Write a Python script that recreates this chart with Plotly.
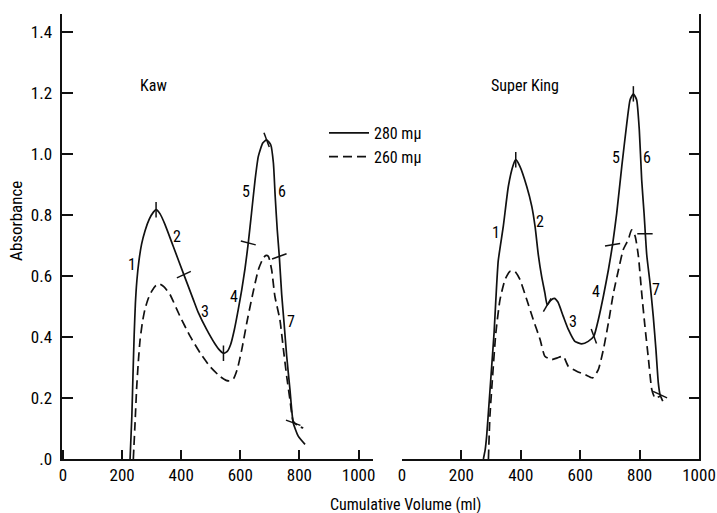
import plotly.graph_objects as go

# Kaw column: absorbance vs cumulative volume (ml)
kaw_vol_280 = [227, 233, 237, 241, 245, 250, 257, 266, 278, 292, 306, 315, 328, 345, 373, 409,
               441, 458, 486, 514, 530, 543, 555, 567, 580, 593, 605, 616, 627, 638, 650, 661,
               676, 689, 703, 712, 718, 725, 732, 740, 748, 757, 768, 779, 796, 819]
kaw_abs_280 = [0.0, 0.14, 0.28, 0.41, 0.51, 0.585, 0.65, 0.705, 0.75, 0.787, 0.81, 0.818, 0.805,
               0.77, 0.698, 0.605, 0.523, 0.48, 0.425, 0.378, 0.357, 0.347, 0.352, 0.375, 0.425,
               0.49, 0.556, 0.625, 0.709, 0.807, 0.916, 0.993, 1.037, 1.047, 1.031, 0.971,
               0.862, 0.752, 0.665, 0.54, 0.447, 0.337, 0.228, 0.119, 0.075, 0.048]
kaw_vol_260 = [238, 244, 249, 255, 261, 269, 277, 288, 300, 313, 326, 342, 362, 396, 430, 464,
               497, 531, 552, 565, 578, 590, 605, 622, 638, 661, 678, 687, 695, 706, 717, 734,
               746, 757, 768, 779, 796, 813]
kaw_abs_260 = [0.0, 0.12, 0.228, 0.32, 0.392, 0.45, 0.49, 0.525, 0.55, 0.568, 0.575, 0.565,
               0.54, 0.468, 0.403, 0.348, 0.304, 0.271, 0.258, 0.256, 0.265, 0.295, 0.359,
               0.447, 0.523, 0.621, 0.66, 0.668, 0.665, 0.621, 0.534, 0.457, 0.359, 0.271,
               0.195, 0.124, 0.108, 0.102]
kaw_cut_vol = [315, 409, 543, 627, 689, 732, 779]
kaw_cut_abs = [0.818, 0.605, 0.347, 0.709, 1.047, 0.665, 0.119]
kaw_cut_angle = [90, -25, 90, 15, 70, -20, 20]
kaw_frac_vol = [232, 387, 481, 580, 619, 740, 772]
kaw_frac_abs = [0.638, 0.731, 0.485, 0.534, 0.878, 0.878, 0.452]

# Super King column
sk_vol_280 = [274, 280, 285, 294, 302, 310, 316, 324, 341, 358, 373, 383, 397, 420, 437, 448,
              459, 470, 481, 489, 500, 513, 525, 543, 560, 582, 605, 627, 646, 661, 678, 695,
              709, 723, 740, 757, 768, 779, 790, 799, 807, 815, 824, 835, 846, 855, 863, 869,
              878]
sk_abs_280 = [0.0, 0.03, 0.075, 0.195, 0.304, 0.414, 0.523, 0.65, 0.763, 0.894, 0.96, 0.982,
              0.96, 0.894, 0.829, 0.763, 0.67, 0.6, 0.545, 0.505, 0.52, 0.527, 0.515, 0.468,
              0.425, 0.386, 0.378, 0.386, 0.403, 0.457, 0.534, 0.621, 0.703, 0.807, 0.96,
              1.102, 1.179, 1.198, 1.179, 1.08, 0.916, 0.807, 0.67, 0.578, 0.468, 0.359, 0.25,
              0.211, 0.19]
sk_vol_260 = [291, 296, 305, 316, 330, 347, 364, 380, 397, 420, 442, 465, 481, 504, 523, 543,
              560, 588, 616, 642, 661, 678, 695, 712, 729, 745, 762, 773, 785, 796, 807, 818,
              830, 841, 852, 869]
sk_abs_260 = [0.0, 0.14, 0.271, 0.414, 0.523, 0.589, 0.616, 0.616, 0.589, 0.523, 0.457, 0.392,
              0.337, 0.326, 0.332, 0.337, 0.304, 0.288, 0.277, 0.266, 0.293, 0.359, 0.447, 0.545,
              0.621, 0.687, 0.72, 0.752, 0.731, 0.665, 0.545, 0.435, 0.326, 0.228, 0.2, 0.206]
sk_cut_vol = [383, 489, 646, 709, 779, 818, 869]
sk_cut_abs = [0.982, 0.505, 0.403, 0.703, 1.198, 0.739, 0.211]
sk_cut_angle = [90, -60, 70, -10, 90, 0, 25]
sk_frac_vol = [316, 465, 575, 653, 721, 824, 855]
sk_frac_abs = [0.742, 0.78, 0.452, 0.55, 0.988, 0.988, 0.556]

frac_labels = ["1", "2", "3", "4", "5", "6", "7"]
y_ticks = [0, 0.2, 0.4, 0.6, 0.8, 1.0, 1.2, 1.4]
y_tick_text = [".0", "0.2", "0.4", "0.6", "0.8", "1.0", "1.2", "1.4"]
x_ticks = [0, 200, 400, 600, 800, 1000]

FONT = "Roboto Condensed, Liberation Sans Narrow, Roboto, sans-serif"
INK = "#111111"
DASH = "9px,5px"

fig = go.Figure()

def add_panel(vol280, abs280, vol260, abs260, cut_v, cut_a, cut_ang, xa, ya, legend):
    fig.add_trace(go.Scatter(x=vol280, y=abs280, mode="lines", name="280 mμ",
                             line=dict(color=INK, width=1.7, shape="spline", smoothing=0.5),
                             xaxis=xa, yaxis=ya, showlegend=legend))
    fig.add_trace(go.Scatter(x=vol260, y=abs260, mode="lines", name="260 mμ",
                             line=dict(color=INK, width=1.7, dash=DASH, shape="spline", smoothing=0.5),
                             xaxis=xa, yaxis=ya, showlegend=legend))
    fig.add_trace(go.Scatter(x=cut_v, y=cut_a, mode="markers", showlegend=False,
                             marker=dict(symbol="line-ew", size=11, angle=cut_ang,
                                         line=dict(color=INK, width=1.5)),
                             xaxis=xa, yaxis=ya, hoverinfo="skip"))

add_panel(kaw_vol_280, kaw_abs_280, kaw_vol_260, kaw_abs_260,
          kaw_cut_vol, kaw_cut_abs, kaw_cut_angle, "x", "y", True)
add_panel(sk_vol_280, sk_abs_280, sk_vol_260, sk_abs_260,
          sk_cut_vol, sk_cut_abs, sk_cut_angle, "x2", "y2", False)

label_font = dict(size=16, family=FONT, color="black")
annotations = []
for lab, xv, yv in zip(frac_labels, kaw_frac_vol, kaw_frac_abs):
    annotations.append(dict(x=xv, y=yv, xref="x", yref="y", text=lab, showarrow=False,
                            font=label_font))
for lab, xv, yv in zip(frac_labels, sk_frac_vol, sk_frac_abs):
    annotations.append(dict(x=xv, y=yv, xref="x2", yref="y2", text=lab, showarrow=False,
                            font=label_font))
annotations += [
    dict(x=305, y=1.225, xref="x", yref="y", text="Kaw", showarrow=False, font=label_font),
    dict(x=414, y=1.225, xref="x2", yref="y2", text="Super King", showarrow=False,
         font=label_font),
    dict(x=0.566, y=-0.102, xref="paper", yref="paper", text="Cumulative Volume (ml)",
         showarrow=False, yanchor="middle", font=label_font),
    dict(x=16 / 717, y=0.535, xref="paper", yref="paper", text="Absorbance", textangle=-90,
         showarrow=False, xanchor="center",
         font=dict(size=17, family=FONT, color="black")),
]

axis_common = dict(showgrid=False, zeroline=False, showline=True, linecolor=INK, linewidth=2,
                   ticks="inside", tickcolor=INK, tickwidth=1.8, automargin=False,
                   tickfont=dict(size=17, family=FONT, color="black"))

fig.update_layout(
    width=717, height=513, autosize=False,
    margin=dict(l=0, r=0, t=14, b=53.5, pad=0, autoexpand=False),
    paper_bgcolor="white", plot_bgcolor="white",
    xaxis=dict(domain=[61.5 / 717, 373 / 717], range=[-5, 1049], anchor="y",
               tickvals=x_ticks, ticklen=9, **axis_common),
    yaxis=dict(domain=[0, 1], range=[0, 1.46], anchor="x", tickvals=y_ticks,
               ticktext=y_tick_text, ticklen=11, ticklabelstandoff=4, **axis_common),
    xaxis2=dict(domain=[402 / 717, 699 / 717], range=[0, 1000], anchor="y2",
                tickvals=x_ticks, ticklen=9, **axis_common),
    yaxis2=dict(domain=[0, 1], range=[0, 1.46], anchor="x2", side="right",
                tickvals=y_ticks, ticklen=10, showticklabels=False, **axis_common),
    yaxis3=dict(range=[0, 1.46], anchor="x2", overlaying="y2", side="left",
                showline=False, showgrid=False, zeroline=False, ticks="", automargin=False,
                tickvals=[0], ticktext=[".0"], ticklabelstandoff=2,
                tickfont=dict(size=17, family=FONT, color="black")),
    legend=dict(x=324 / 717, y=(459.5 - 116) / 445.5, xanchor="left", yanchor="top",
                bgcolor="rgba(0,0,0,0)", font=dict(size=16, family=FONT, color="black"),
                itemwidth=40, tracegroupgap=0),
    annotations=annotations,
)

fig.write_html("out.html", config={"responsive": False})
